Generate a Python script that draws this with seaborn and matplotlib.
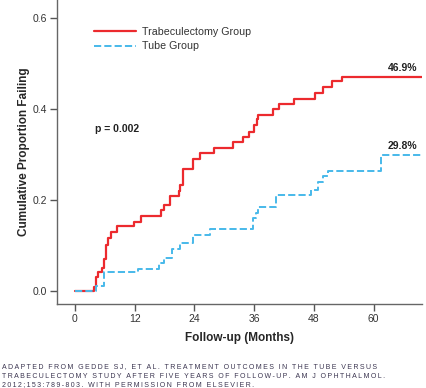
import numpy as np
import pandas as pd
import matplotlib
matplotlib.use("Agg")
import matplotlib.pyplot as plt
import seaborn as sns

# Kaplan-Meier style cumulative failure
trab_months = [0, 3.9, 4.2, 4.7, 5.4, 5.9, 6.3, 6.7, 7.3, 8.4, 11.8, 13.3, 17.3, 17.8,
               19.1, 20.9, 21.2, 21.7, 23.8, 25.1, 28.0, 31.8, 33.8, 35.0, 36.0, 36.6,
               36.8, 39.8, 41.0, 44.0, 48.3, 49.9, 51.6, 53.6, 70]
trab_fail = [0, 0.009, 0.031, 0.042, 0.051, 0.070, 0.100, 0.117, 0.130, 0.143, 0.152,
             0.165, 0.177, 0.188, 0.208, 0.220, 0.232, 0.267, 0.289, 0.302, 0.313, 0.327,
             0.338, 0.350, 0.364, 0.377, 0.386, 0.399, 0.410, 0.422, 0.434, 0.447, 0.461,
             0.469, 0.469]
tube_months = [0, 4.2, 5.9, 12.7, 16.9, 17.9, 19.5, 21.1, 23.8, 27.1, 35.7, 36.3, 36.8,
               40.3, 47.5, 48.9, 49.9, 50.9, 61.4, 70]
tube_fail = [0, 0.010, 0.042, 0.049, 0.062, 0.071, 0.091, 0.104, 0.122, 0.135, 0.160,
             0.172, 0.185, 0.210, 0.221, 0.240, 0.252, 0.264, 0.298, 0.298]

groups = ["Trabeculectomy Group", "Tube Group"]
end_labels = ["46.9%", "29.8%"]
p_text = "p = 0.002"
x_ticks = [0, 12, 24, 36, 48, 60]
y_ticks = [0.0, 0.2, 0.4, 0.6]

red = "#ec2a2e"
blue = "#48b9ea"

sns.set_style("white")
plt.rcParams["font.family"] = ["Liberation Sans", "DejaVu Sans"]

fig = plt.figure(figsize=(4.26, 3.88), dpi=100)
ax = fig.add_axes([57 / 426, 84 / 388, 365 / 426, 304 / 388])

trab = pd.DataFrame({"months": trab_months, "fail": trab_fail})
tube = pd.DataFrame({"months": tube_months, "fail": tube_fail})

sns.lineplot(data=trab, x="months", y="fail", ax=ax, color=red, lw=1.6,
             drawstyle="steps-post", estimator=None, sort=False, label=groups[0])
sns.lineplot(data=tube, x="months", y="fail", ax=ax, color=blue, lw=1.4,
             drawstyle="steps-post", estimator=None, sort=False, label=groups[1],
             dashes=(4, 2.2), linestyle="--")

ax.set_xlim(-3.6, 69.7)
ax.set_ylim(-0.029, 0.639)
ax.set_xticks(x_ticks)
ax.set_yticks(y_ticks)
ax.set_yticklabels([f"{v:.1f}" for v in y_ticks])
ax.tick_params(axis="both", which="both", direction="out", length=5, width=1,
               color="#555555", labelsize=7.5, labelcolor="#333333", pad=2,
               left=True, bottom=True)
ax.tick_params(axis="x", pad=2)
for side in ["top", "right"]:
    ax.spines[side].set_visible(False)
for side in ["left", "bottom"]:
    ax.spines[side].set_color("#666666")
    ax.spines[side].set_linewidth(1)

ax.set_xlabel("Follow-up (Months)", fontsize=8.5, fontweight="bold", labelpad=6)
ax.set_ylabel("Cumulative Proportion Failing", fontsize=8.5, fontweight="bold", labelpad=2)

ax.text(68.7, trab_fail[-1] + 0.01, end_labels[0], ha="right", va="bottom",
        fontsize=7.5, fontweight="bold", color="#222222")
ax.text(68.7, tube_fail[-1] + 0.01, end_labels[1], ha="right", va="bottom",
        fontsize=7.5, fontweight="bold", color="#222222")
ax.text(4, 0.355, p_text, ha="left", va="center", fontsize=7.5,
        fontweight="bold", color="#222222")

leg = ax.legend(loc="upper left", bbox_to_anchor=(0.09, 0.925), frameon=False,
                fontsize=7.7, handlelength=3.9, handletextpad=0.6, labelspacing=0.4,
                borderaxespad=0)
for t in leg.get_texts():
    t.set_color("#333333")

caption = ["ADAPTED FROM GEDDE SJ, ET AL. TREATMENT OUTCOMES IN THE TUBE VERSUS",
           "TRABECULECTOMY STUDY AFTER FIVE YEARS OF FOLLOW-UP. AM J OPHTHALMOL.",
           "2012;153:789-803. WITH PERMISSION FROM ELSEVIER."]
for i, line in enumerate(caption):
    spaced = "\u2009".join(line)
    fig.text(2 / 426, 1 - (367 + 9 * i) / 388, spaced, fontsize=5.05,
             color="#3b3550", ha="left", va="center")

fig.savefig("out.png", dpi=100)
